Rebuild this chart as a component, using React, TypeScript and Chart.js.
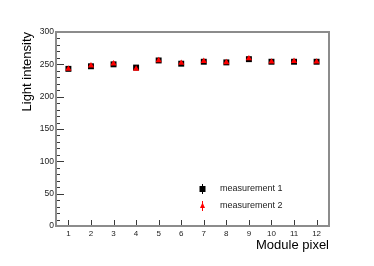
import React, { useEffect, useRef } from "react";
import { Chart, registerables } from "chart.js";

Chart.register(...registerables);

const pixels = [1, 2, 3, 4, 5, 6, 7, 8, 9, 10, 11, 12];
const measurement1 = [243, 247, 250, 245, 256, 251, 254, 253, 258, 254, 254, 254];
const measurement2 = [243, 248, 251, 243, 256, 252, 255, 253, 259, 254, 255, 254];
const errors1 = [2, 2, 2, 2, 2, 2, 2, 2, 2, 2, 2, 2];
const errors2 = [2, 2, 2, 2, 2, 2, 2, 2, 2, 2, 2, 2];
const seriesLabels = ["measurement 1", "measurement 2"];
const yTicks = [0, 50, 100, 150, 200, 250, 300];
const yMinorStep = 10;
const xTitle = "Module pixel";
const yTitle = "Light intensity";

const FONT = "'Liberation Sans', Arial, Helvetica, sans-serif";

const rootStylePlugin = {
  id: "rootStyle",
  beforeDatasetsDraw(chart: any) {
    const { ctx, chartArea, scales } = chart;
    const xs = scales.x;
    const ys = scales.y;
    const { left, right, top, bottom } = chartArea;
    ctx.save();
    // error bars
    chart.data.datasets.forEach((ds: any) => {
      ctx.strokeStyle = ds.borderColor;
      ctx.lineWidth = 1;
      ds.data.forEach((p: any, i: number) => {
        const e = ds.errors[i];
        const x = Math.round(xs.getPixelForValue(p.x)) + 0.5;
        ctx.beginPath();
        ctx.moveTo(x, ys.getPixelForValue(p.y - e));
        ctx.lineTo(x, ys.getPixelForValue(p.y + e));
        ctx.stroke();
      });
    });
    // ticks
    ctx.strokeStyle = "#3a3a3a";
    ctx.lineWidth = 1;
    const ymin = ys.min, ymax = ys.max;
    for (let v = ymin; v <= ymax + 1e-9; v += yMinorStep) {
      const y = Math.round(ys.getPixelForValue(v)) + 0.5;
      const major = yTicks.includes(v);
      ctx.beginPath();
      ctx.moveTo(left, y);
      ctx.lineTo(left + (major ? 8 : 4), y);
      ctx.stroke();
    }
    pixels.forEach((p) => {
      const x = Math.round(xs.getPixelForValue(p)) + 0.5;
      ctx.beginPath();
      ctx.moveTo(x, bottom);
      ctx.lineTo(x, bottom - 6);
      ctx.stroke();
    });
    // frame
    ctx.strokeStyle = "#8c8c8c";
    ctx.lineWidth = 2;
    ctx.beginPath();
    ctx.rect(left, top, right - left, bottom - top);
    ctx.stroke();
    ctx.restore();
  },
  afterDraw(chart: any) {
    const { ctx } = chart;
    ctx.save();
    const lx = 202;
    const rows = [189, 206];
    chart.data.datasets.forEach((ds: any, i: number) => {
      const y = rows[i];
      ctx.strokeStyle = ds.borderColor;
      ctx.lineWidth = 1;
      ctx.beginPath();
      ctx.moveTo(lx + 0.5, y - 5);
      ctx.lineTo(lx + 0.5, y + 5);
      ctx.stroke();
      ctx.fillStyle = ds.backgroundColor;
      ctx.beginPath();
      if (ds.pointStyle === "rect") {
        ctx.rect(lx - 2.5, y - 3, 6, 6);
      } else {
        ctx.moveTo(lx + 0.5, y - 3.5);
        ctx.lineTo(lx + 3, y + 2);
        ctx.lineTo(lx - 2, y + 2);
        ctx.closePath();
      }
      ctx.fill();
      ctx.fillStyle = "#222";
      ctx.font = `9px ${FONT}`;
      ctx.textBaseline = "middle";
      ctx.textAlign = "left";
      ctx.fillText(ds.label, 220, y);
    });
    ctx.restore();
  },
};

export default function App() {
  const ref = useRef<HTMLCanvasElement>(null);
  useEffect(() => {
    if (!ref.current) return;
    const chart = new Chart(ref.current, {
      type: "scatter",
      data: {
        datasets: [
          {
            label: seriesLabels[0],
            data: pixels.map((p, i) => ({ x: p, y: measurement1[i] })),
            errors: errors1,
            order: 2,
            pointStyle: "rect",
            pointRadius: 4.2,
            backgroundColor: "#000000",
            borderColor: "#000000",
            borderWidth: 0,
          } as any,
          {
            label: seriesLabels[1],
            data: pixels.map((p, i) => ({ x: p, y: measurement2[i] })),
            errors: errors2,
            order: 1,
            pointStyle: "triangle",
            pointRadius: 3.6,
            backgroundColor: "#ff0000",
            borderColor: "#ff0000",
            borderWidth: 0,
          } as any,
        ],
      },
      options: {
        animation: false,
        responsive: false,
        layout: { padding: { top: 32, right: 45, left: 0, bottom: 0 } },
        plugins: { legend: { display: false }, tooltip: { enabled: false } },
        scales: {
          x: {
            type: "linear",
            min: 0.45,
            max: 12.55,
            afterBuildTicks: (s: any) => {
              s.ticks = pixels.map((v) => ({ value: v }));
            },
            afterFit: (s: any) => {
              s.height = 40;
            },
            grid: { display: false, drawTicks: false },
            border: { display: false },
            ticks: {
              padding: 3,
              color: "#222",
              font: { family: FONT, size: 8 },
              maxRotation: 0,
              autoSkip: false,
            },
            title: {
              display: true,
              text: xTitle,
              align: "end",
              color: "#000",
              font: { family: FONT, size: 13 },
              padding: { top: 0, bottom: 13 },
            },
          },
          y: {
            type: "linear",
            min: 0,
            max: 300,
            afterBuildTicks: (s: any) => {
              s.ticks = yTicks.map((v) => ({ value: v }));
            },
            afterFit: (s: any) => {
              s.width = 56;
            },
            grid: { display: false, drawTicks: false },
            border: { display: false },
            ticks: {
              padding: 2,
              color: "#222",
              font: { family: FONT, size: 8.5 },
            },
            title: {
              display: true,
              text: yTitle,
              align: "end",
              color: "#000",
              font: { family: FONT, size: 13 },
              padding: { top: 20, bottom: 0 },
            },
          },
        },
      },
      plugins: [rootStylePlugin],
    });
    return () => chart.destroy();
  }, []);
  return (
    <div style={{ position: "fixed", left: 0, top: 0, width: 374, height: 266, background: "#fff" }}>
      <canvas ref={ref} width={374} height={266} />
    </div>
  );
}
